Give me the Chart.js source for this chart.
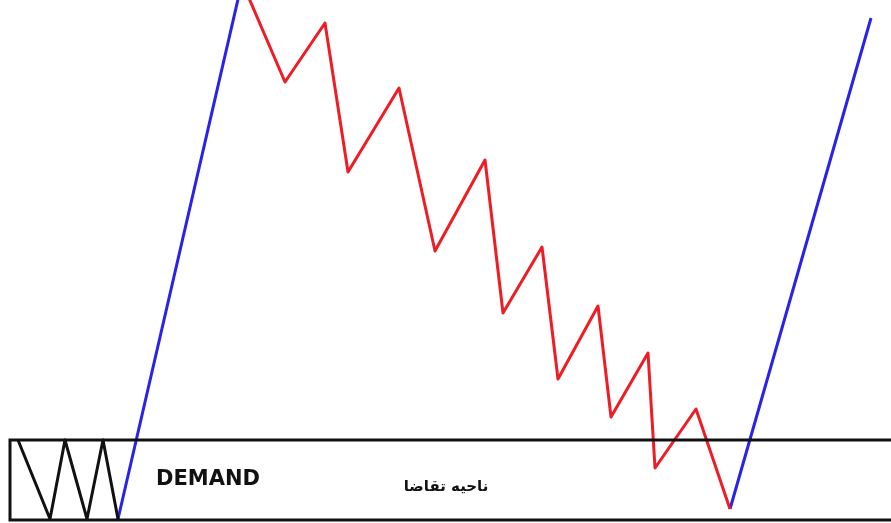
<!DOCTYPE html>
<html>
<head>
<meta charset="utf-8">
<script src="https://cdn.jsdelivr.net/npm/chart.js@4/dist/chart.umd.min.js"></script>
<style>
    html, body { margin: 0; padding: 0; background: #ffffff; }
    canvas { display: block; }
</style>
</head>
<body>
<canvas id="chart" width="891" height="523"></canvas>
<script>
// price path, x = time, y = price (0 = bottom of canvas)
const zone_x = [900, 10, 10, 900];
const zone_y = [83, 83, 3, 3];

const base_x = [18, 50, 65, 87, 103, 118];
const base_y = [83, 4, 83, 4, 83, 4];

const rally_x = [118, 242];
const rally_y = [4, 541];

const drop_x = [242, 285, 325, 348, 399, 435, 485, 503, 542, 558, 598, 611, 648, 655, 696, 730];
const drop_y = [541, 441, 500, 351, 435, 272, 363, 210, 276, 144, 217, 106, 170, 55, 114, 14];

const rally2_x = [730, 871];
const rally2_y = [14, 505];

const labels_text = ['DEMAND', 'ناحیه تقاضا'];

function to_points(xs, ys) {
    return xs.map((x, i) => ({ x: x, y: ys[i] }));
}

function line_set(xs, ys, color, join) {
    return {
        data: to_points(xs, ys),
        borderColor: color,
        borderWidth: 3,
        pointRadius: 0,
        tension: 0,
        fill: false,
        borderJoinStyle: join || 'miter'
    };
}

// writes the two zone captions
const zone_labels = {
    id: 'zone_labels',
    afterDatasetsDraw(chart) {
        const { ctx, scales } = chart;
        ctx.save();
        ctx.fillStyle = '#111111';
        ctx.textBaseline = 'middle';
        ctx.textAlign = 'left';
        ctx.font = 'bold 21px "DejaVu Sans"';
        ctx.fillText(labels_text[0], scales.x.getPixelForValue(156), scales.y.getPixelForValue(43));
        ctx.textAlign = 'center';
        ctx.font = 'bold 15px "DejaVu Sans"';
        ctx.fillText(labels_text[1], scales.x.getPixelForValue(446), scales.y.getPixelForValue(36));
        ctx.restore();
    }
};

const config = {
    type: 'line',
    data: {
        datasets: [
            line_set(zone_x, zone_y, '#111111'),
            line_set(base_x, base_y, '#111111', 'round'),
            line_set(rally_x, rally_y, '#2a22e6'),
            line_set(drop_x, drop_y, '#ee1c24', 'round'),
            line_set(rally2_x, rally2_y, '#2a22e6')
        ]
    },
    options: {
        responsive: false,
        animation: false,
        layout: { padding: 0 },
        scales: {
            x: { type: 'linear', min: 0, max: 891, display: false },
            y: { type: 'linear', min: 0, max: 523, display: false }
        },
        plugins: {
            legend: { display: false },
            tooltip: { enabled: false }
        }
    },
    plugins: [zone_labels]
};

new Chart(document.getElementById('chart'), config);
</script>
</body>
</html>
